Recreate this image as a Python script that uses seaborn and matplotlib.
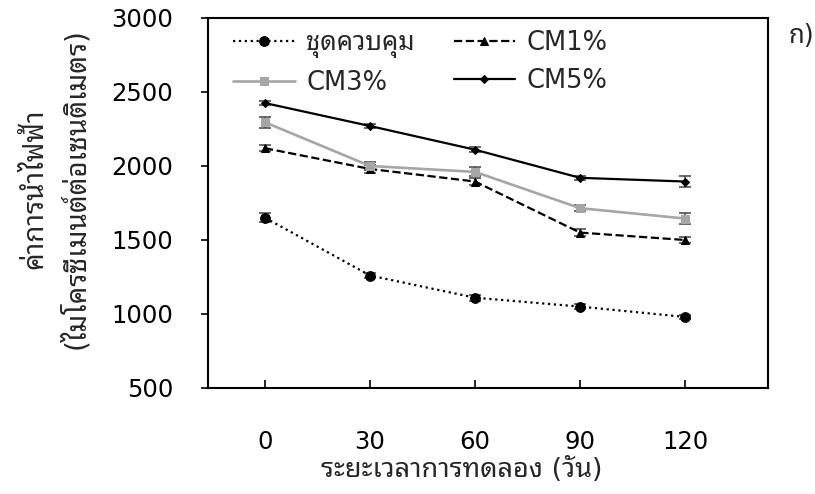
import matplotlib
matplotlib.use('Agg')
import matplotlib.pyplot as plt
import seaborn as sns
import pandas as pd

# ── Data ────────────────────────────────────────────────────────────────
days = [0, 30, 60, 90, 120]
control = [1650, 1260, 1110, 1050, 980]
cm1 = [2120, 1980, 1895, 1550, 1500]
cm3 = [2295, 2000, 1960, 1715, 1645]
cm5 = [2425, 2270, 2110, 1920, 1895]
control_err = [30, 20, 20, 15, 15]
cm1_err = [20, 25, 25, 25, 20]
cm3_err = [35, 25, 30, 20, 40]
cm5_err = [15, 15, 15, 15, 35]
series_names = ['ชุดควบคุม', 'CM1%', 'CM3%', 'CM5%']
x_label = 'ระยะเวลาการทดลอง (วัน)'
y_label = 'ค่าการนำไฟฟ้า\n(ไมโครซีเมนต์ต่อเซนติเมตร)'

# ── Styling ─────────────────────────────────────────────────────────────
sns.set_theme(style='white')
plt.rcParams['font.family'] = ['DejaVu Sans', 'Noto Sans Thai Looped',
                               'Noto Sans Thai']

fig = plt.figure(figsize=(8.15, 4.94), dpi=100)
ax = fig.add_axes([0.2552, 0.2146, 0.6871, 0.749])

styles = [
    (control, control_err, ':', 'o', 'black', 7, 1.6),
    (cm1, cm1_err, '--', '^', 'black', 6, 1.6),
    (cm3, cm3_err, '-', 's', '#A6A6A6', 6, 1.9),
    (cm5, cm5_err, '-', 'D', 'black', 4.5, 1.6),
]
for name, (vals, err, ls, mk, col, ms, lw) in zip(series_names, styles):
    df = pd.DataFrame({'day': days, 'value': vals})
    ax.errorbar(days, vals, yerr=err, fmt='none', ecolor='#505050',
                elinewidth=1.2, capsize=4.5, capthick=1.2, zorder=2)
    sns.lineplot(data=df, x='day', y='value', ax=ax, color=col, linestyle=ls,
                 linewidth=lw, marker=mk, markersize=ms, markeredgecolor=col,
                 zorder=3, label=name, legend=False)

ax.set_xlim(-16.3, 143.7)
ax.set_ylim(500, 3000)
ax.set_xticks(days)
ax.set_yticks(range(500, 3001, 500))
for sp in ax.spines.values():
    sp.set_visible(True)
    sp.set_color('black')
    sp.set_linewidth(1.5)
ax.tick_params(axis='x', direction='in', length=6, width=1.2, pad=30,
               labelsize=17.5, colors='black', bottom=True)
ax.tick_params(axis='y', direction='out', length=5, width=1.2, pad=20,
               labelsize=17.5, colors='black', left=True)
ax.set_xlabel(x_label, fontsize=19.5)
ax.xaxis.set_label_coords(0.4536, -0.222)
ax.xaxis.label.set_va('center')
ax.set_ylabel('')
fig.text(55 / 815, 1 - 189 / 494, y_label, fontsize=20, rotation=90,
         ha='center', va='center', multialignment='center', linespacing=1.5)

lines = [l for l in ax.get_lines() if l.get_label() in series_names]
order = [0, 2, 1, 3]
ax.legend([lines[i] for i in order], [series_names[i] for i in order],
          ncol=2, loc='upper left', bbox_to_anchor=(15 / 560, 0.995),
          frameon=False, fontsize=18.5, borderaxespad=0,
          handlelength=2.4, columnspacing=1.5,
          labelspacing=0.45, handletextpad=0.45)

fig.text(0.968, 0.928, 'ก)', fontsize=18.5, ha='left', va='center')

fig.savefig('out.png', dpi=100)
